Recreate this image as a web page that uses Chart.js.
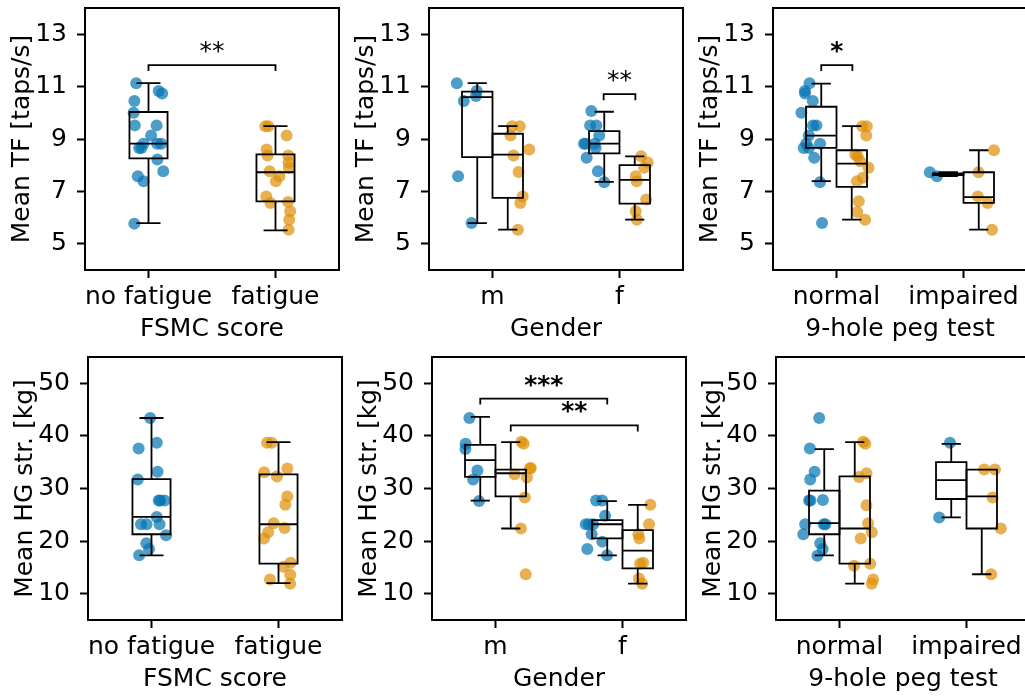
<!DOCTYPE html>
<html>
<head>
<meta charset="utf-8">
<script src="https://cdn.jsdelivr.net/npm/chart.js@4.4.0/dist/chart.umd.min.js"></script>
<style>
  body { margin: 0; background: #fff; width: 1025px; height: 696px; overflow: hidden; position: relative; }
  .painel { position: absolute; width: 345px; }
</style>
</head>
<body>
<div class="painel" style="left:0px;top:0px;height:345px"><canvas id="g1"></canvas></div>
<div class="painel" style="left:344px;top:0px;height:345px"><canvas id="g2"></canvas></div>
<div class="painel" style="left:688px;top:0px;height:345px"><canvas id="g3"></canvas></div>
<div class="painel" style="left:3px;top:349px;height:346px"><canvas id="g4"></canvas></div>
<div class="painel" style="left:347px;top:349px;height:346px"><canvas id="g5"></canvas></div>
<div class="painel" style="left:691px;top:349px;height:346px"><canvas id="g6"></canvas></div>
<script>
// ---- rótulos ----
var catFsmc = ['no fatigue', 'fatigue'];
var catGenero = ['m', 'f'];
var catPeg = ['normal', 'impaired'];
var ticksTf = [5, 7, 9, 11, 13];
var ticksHg = [10, 20, 30, 40, 50];

// ---- Mean TF [taps/s] ----
var tfSemFadiga = [11.13, 10.83, 10.74, 10.45, 10.0, 9.52, 9.52, 9.13, 8.82, 8.82, 8.82, 8.66, 8.66, 8.22, 7.77, 7.58, 7.39, 5.77];
var tfFadiga = [9.49, 9.49, 9.13, 8.6, 8.37, 8.37, 8.1, 7.9, 7.77, 7.58, 7.39, 6.81, 6.6, 6.56, 6.24, 5.92, 5.54];
var tfMascSem = [11.13, 10.83, 10.64, 10.45, 7.58, 5.79];
var tfMascCom = [9.49, 9.49, 9.13, 8.6, 8.37, 7.74, 6.81, 6.56, 5.54];
var tfFemSem = [10.07, 9.52, 9.52, 9.13, 8.82, 8.82, 8.82, 8.66, 8.28, 7.77, 7.35];
var tfFemCom = [8.34, 8.1, 7.9, 7.58, 7.39, 6.69, 6.24, 5.92];
var tfNormalSem = [11.13, 10.83, 10.74, 10.45, 10.0, 9.52, 9.52, 9.13, 8.82, 8.82, 8.66, 8.66, 8.28, 7.35, 5.79];
var tfNormalCom = [9.49, 9.49, 9.13, 8.41, 8.34, 8.15, 7.9, 7.52, 7.39, 6.62, 6.21, 5.92];
var tfAlteradoSem = [7.73, 7.58];
var tfAlteradoCom = [8.57, 7.73, 6.81, 6.56, 5.54];

// caixas: [bigode inf, q1, mediana, q3, bigode sup]
var cxTfSemFadiga = [5.79, 8.26, 8.82, 10.03, 11.13];
var cxTfFadiga = [5.51, 6.62, 7.73, 8.41, 9.49];
var cxTfMascSem = [5.79, 8.31, 10.6, 10.81, 11.13];
var cxTfMascCom = [5.54, 6.75, 8.4, 9.2, 9.49];
var cxTfFemSem = [7.36, 8.45, 8.82, 9.3, 10.04];
var cxTfFemCom = [5.92, 6.53, 7.44, 8.0, 8.34];
var cxTfNormalSem = [7.39, 8.66, 9.13, 10.23, 11.11];
var cxTfNormalCom = [5.92, 7.17, 8.06, 8.57, 9.49];
var cxTfAlteradoSem = [7.58, 7.62, 7.65, 7.69, 7.73];
var cxTfAlteradoCom = [5.54, 6.56, 6.78, 7.73, 8.57];

// ---- Mean HG str. [kg] ----
var hgSemFadiga = [43.4, 38.7, 37.6, 33.2, 31.7, 27.7, 27.7, 27.7, 24.6, 23.2, 23.2, 23.2, 21.1, 19.6, 18.5, 17.3];
var hgFadiga = [38.7, 38.7, 33.8, 33.1, 32.3, 28.5, 26.9, 23.4, 22.5, 21.7, 20.5, 15.9, 15.1, 13.6, 12.7, 11.9];
var hgMascSem = [43.4, 38.5, 37.5, 33.4, 31.7, 27.6];
var hgMascCom = [38.9, 38.5, 33.9, 33.8, 32.7, 32.1, 28.3, 22.4, 13.7];
var hgFemSem = [27.7, 27.7, 24.8, 23.2, 23.2, 23.2, 21.3, 19.9, 18.5, 17.3];
var hgFemCom = [26.9, 23.2, 21.3, 20.5, 15.9, 15.7, 12.9, 11.9];
var hgNormalSem = [43.4, 37.6, 33.2, 31.7, 27.8, 27.7, 27.7, 23.2, 23.2, 23.2, 21.3, 19.6, 18.5, 17.2];
var hgNormalCom = [38.9, 38.5, 32.9, 32.2, 26.8, 23.4, 21.7, 20.5, 15.7, 15.3, 12.7, 11.9];
var hgAlteradoSem = [38.7, 24.5];
var hgAlteradoCom = [33.6, 33.6, 28.3, 22.4, 13.7];

var cxHgSemFadiga = [17.3, 21.3, 24.6, 31.8, 43.4];
var cxHgFadiga = [12.0, 15.7, 23.2, 32.7, 38.8];
var cxHgMascSem = [27.7, 32.2, 35.4, 38.3, 43.6];
var cxHgMascCom = [22.4, 28.5, 32.9, 33.6, 38.8];
var cxHgFemSem = [17.3, 20.5, 23.2, 24.0, 27.6];
var cxHgFemCom = [11.9, 14.8, 18.2, 22.1, 26.9];
var cxHgNormalSem = [17.3, 21.3, 23.4, 29.6, 37.5];
var cxHgNormalCom = [11.9, 15.7, 22.4, 32.3, 38.8];
var cxHgAlteradoSem = [24.5, 28.0, 31.6, 35.0, 38.5];
var cxHgAlteradoCom = [13.7, 22.4, 28.5, 33.6, 33.6];

var AZUL = 'rgba(1, 115, 178, 0.7)';
var LARANJA = 'rgba(222, 143, 5, 0.7)';
var FONTE = 'DejaVu Sans';

Chart.defaults.color = '#000';
Chart.defaults.font.family = FONTE;
Chart.defaults.font.size = 25;

// gerador fixo para o espalhamento horizontal dos pontos
var semente = 12345;
function sorteio() {
    semente = (semente * 16807) % 2147483647;
    return semente / 2147483647;
}

// grupo único por categoria ou dois grupos (sem fadiga / fadiga) lado a lado
function grupoUnico(cat, pontos, caixa, cor) {
    return { centro: cat, largura: 0.15, pontosX: cat, espalha: 0.12, pontos: pontos, caixa: caixa, cor: cor };
}
function grupoDuplo(cat, lado, pontos, caixa, cor) {
    return { centro: cat + lado * 0.12, largura: 0.12, pontosX: cat + lado * 0.2, espalha: 0.09, pontos: pontos, caixa: caixa, cor: cor };
}

function semPadding(s) {
    s.paddingTop = 0; s.paddingBottom = 0; s.paddingLeft = 0; s.paddingRight = 0;
}

function desenharExtras(chart, grupos, chaves) {
    var ctx = chart.ctx, x = chart.scales.x, y = chart.scales.y, a = chart.chartArea;
    ctx.save();
    ctx.strokeStyle = '#000';
    ctx.lineWidth = 1.8;
    grupos.forEach(function (g) {
        var c = g.caixa;
        var cx = x.getPixelForValue(g.centro);
        var meia = x.getPixelForValue(g.centro + g.largura) - cx;
        var tampa = meia * 0.63;
        var yLo = y.getPixelForValue(c[0]), yQ1 = y.getPixelForValue(c[1]), yMed = y.getPixelForValue(c[2]);
        var yQ3 = y.getPixelForValue(c[3]), yHi = y.getPixelForValue(c[4]);
        ctx.beginPath();
        ctx.rect(cx - meia, yQ3, meia * 2, yQ1 - yQ3);
        ctx.moveTo(cx - meia, yMed); ctx.lineTo(cx + meia, yMed);
        ctx.moveTo(cx, yQ1); ctx.lineTo(cx, yLo);
        ctx.moveTo(cx, yQ3); ctx.lineTo(cx, yHi);
        ctx.moveTo(cx - tampa, yLo); ctx.lineTo(cx + tampa, yLo);
        ctx.moveTo(cx - tampa, yHi); ctx.lineTo(cx + tampa, yHi);
        ctx.stroke();
    });
    // colchetes de significância
    chaves.forEach(function (k) {
        var x1 = x.getPixelForValue(k.de), x2 = x.getPixelForValue(k.ate), yy = y.getPixelForValue(k.nivel);
        ctx.lineWidth = 1.8;
        ctx.beginPath();
        ctx.moveTo(x1, yy + 6); ctx.lineTo(x1, yy); ctx.lineTo(x2, yy); ctx.lineTo(x2, yy + 6);
        ctx.stroke();
        ctx.fillStyle = '#000';
        ctx.font = (k.negrito ? 'bold ' : '') + '25px ' + FONTE;
        ctx.textAlign = 'center';
        ctx.textBaseline = 'alphabetic';
        ctx.fillText(k.texto, (x1 + x2) / 2, yy - 6);
    });
    // moldura
    ctx.lineWidth = 2;
    ctx.strokeRect(a.left, a.top, a.right - a.left, a.bottom - a.top);
    ctx.restore();
}

function criarPainel(id, categorias, tituloX, tituloY, yMin, yMax, yTicks, grupos, chaves) {
    var datasets = grupos.map(function (g) {
        return {
            data: g.pontos.map(function (v) { return { x: g.pontosX + (sorteio() * 2 - 1) * g.espalha, y: v }; }),
            backgroundColor: g.cor,
            borderWidth: 0,
            pointRadius: 6,
            pointHoverRadius: 6
        };
    });
    new Chart(document.getElementById(id).getContext('2d'), {
        type: 'scatter',
        data: { datasets: datasets },
        options: {
            responsive: true,
            maintainAspectRatio: false,
            animation: false,
            layout: { padding: { top: 8, right: 5, left: 0, bottom: 0 } },
            plugins: { legend: { display: false }, tooltip: { enabled: false } },
            scales: {
                x: {
                    type: 'linear', min: -0.5, max: 1.5,
                    afterBuildTicks: function (s) { s.ticks = [{ value: 0 }, { value: 1 }]; },
                    afterFit: function (s) { s.height = 75; semPadding(s); },
                    ticks: { padding: 4, maxRotation: 0, callback: function (v) { return categorias[v]; } },
                    grid: { drawOnChartArea: false, drawTicks: true, tickLength: 8, tickColor: '#000', tickWidth: 2 },
                    border: { display: false },
                    title: { display: true, text: tituloX, padding: { top: 0, bottom: 1 } }
                },
                y: {
                    type: 'linear', min: yMin, max: yMax,
                    afterBuildTicks: function (s) { s.ticks = yTicks.map(function (v) { return { value: v }; }); },
                    afterFit: function (s) { s.width = 85; semPadding(s); },
                    ticks: { padding: 10 },
                    grid: { drawOnChartArea: false, drawTicks: true, tickLength: 8, tickColor: '#000', tickWidth: 2 },
                    border: { display: false },
                    title: { display: true, text: tituloY, padding: { top: 7, bottom: 0 } }
                }
            }
        },
        plugins: [{ id: 'caixas', afterDatasetsDraw: function (chart) { desenharExtras(chart, grupos, chaves); } }]
    });
}

criarPainel('g1', catFsmc, 'FSMC score', 'Mean TF [taps/s]', 4, 14, ticksTf, [
    grupoUnico(0, tfSemFadiga, cxTfSemFadiga, AZUL),
    grupoUnico(1, tfFadiga, cxTfFadiga, LARANJA)
], [{ de: 0, ate: 1, nivel: 11.82, texto: '**' }]);

criarPainel('g2', catGenero, 'Gender', 'Mean TF [taps/s]', 4, 14, ticksTf, [
    grupoDuplo(0, -1, tfMascSem, cxTfMascSem, AZUL),
    grupoDuplo(0, 1, tfMascCom, cxTfMascCom, LARANJA),
    grupoDuplo(1, -1, tfFemSem, cxTfFemSem, AZUL),
    grupoDuplo(1, 1, tfFemCom, cxTfFemCom, LARANJA)
], [{ de: 0.875, ate: 1.125, nivel: 10.71, texto: '**' }]);

criarPainel('g3', catPeg, '9-hole peg test', 'Mean TF [taps/s]', 4, 14, ticksTf, [
    grupoDuplo(0, -1, tfNormalSem, cxTfNormalSem, AZUL),
    grupoDuplo(0, 1, tfNormalCom, cxTfNormalCom, LARANJA),
    grupoDuplo(1, -1, tfAlteradoSem, cxTfAlteradoSem, AZUL),
    grupoDuplo(1, 1, tfAlteradoCom, cxTfAlteradoCom, LARANJA)
], [{ de: -0.12, ate: 0.125, nivel: 11.82, texto: '*', negrito: true }]);

criarPainel('g4', catFsmc, 'FSMC score', 'Mean HG str. [kg]', 5, 55, ticksHg, [
    grupoUnico(0, hgSemFadiga, cxHgSemFadiga, AZUL),
    grupoUnico(1, hgFadiga, cxHgFadiga, LARANJA)
], []);

criarPainel('g5', catGenero, 'Gender', 'Mean HG str. [kg]', 5, 55, ticksHg, [
    grupoDuplo(0, -1, hgMascSem, cxHgMascSem, AZUL),
    grupoDuplo(0, 1, hgMascCom, cxHgMascCom, LARANJA),
    grupoDuplo(1, -1, hgFemSem, cxHgFemSem, AZUL),
    grupoDuplo(1, 1, hgFemCom, cxHgFemCom, LARANJA)
], [
    { de: -0.12, ate: 0.88, nivel: 47.1, texto: '***', negrito: true },
    { de: 0.12, ate: 1.12, nivel: 42.0, texto: '**', negrito: true }
]);

criarPainel('g6', catPeg, '9-hole peg test', 'Mean HG str. [kg]', 5, 55, ticksHg, [
    grupoDuplo(0, -1, hgNormalSem, cxHgNormalSem, AZUL),
    grupoDuplo(0, 1, hgNormalCom, cxHgNormalCom, LARANJA),
    grupoDuplo(1, -1, hgAlteradoSem, cxHgAlteradoSem, AZUL),
    grupoDuplo(1, 1, hgAlteradoCom, cxHgAlteradoCom, LARANJA)
], []);
</script>
</body>
</html>
